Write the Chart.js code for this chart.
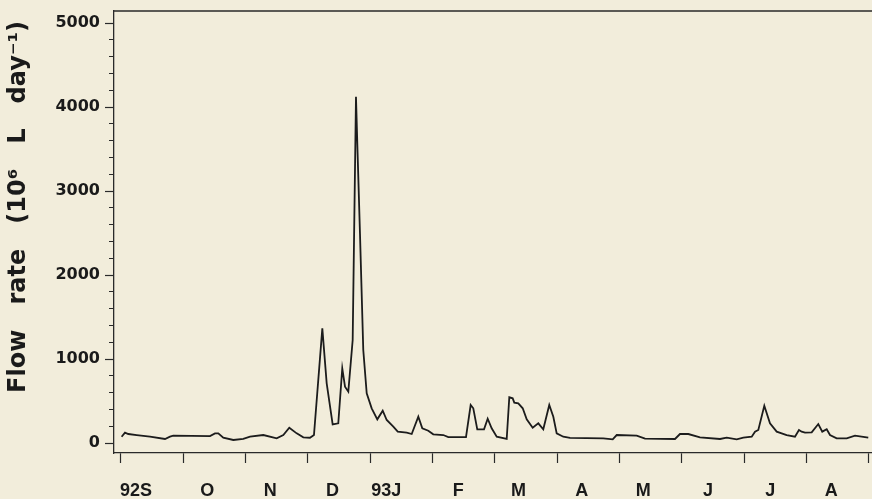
<!DOCTYPE html>
<html>
<head>
<meta charset="utf-8">
<script src="https://cdn.jsdelivr.net/npm/chart.js@4/dist/chart.umd.min.js"></script>
<style>
  html, body { margin: 0; padding: 0; background: #f2eddb; overflow: hidden; width: 872px; height: 499px; }
  canvas { display: block; background: #f2eddb; }
</style>
</head>
<body>
<canvas id="c" width="880" height="499"></canvas>
<script>
// Month labels (Sept 1992 .. Aug 1993)
const monthLabels = ['92S', 'O', 'N', 'D', '93J', 'F', 'M', 'A', 'M', 'J', 'J', 'A'];
// Y tick values
const yMajorTicks = [0, 1000, 2000, 3000, 4000, 5000];
const yMinorTicks = [200, 400, 600, 800, 1200, 1400, 1600, 1800, 2200, 2400, 2600, 2800, 3200, 3400, 3600, 3800, 4200, 4400, 4600, 4800];
// Time in months since 1 Sept 1992
const monthPos = [0.01,0.064,0.117,0.252,0.465,0.706,0.786,0.839,1.428,1.508,
  1.561,1.641,1.802,1.962,2.070,2.283,2.498,2.604,2.700,2.819,
  2.925,3.032,3.096,3.230,3.300,3.396,3.486,3.550,3.594,3.647,
  3.717,3.770,3.791,3.834,3.887,3.942,4.022,4.112,4.199,4.263,
  4.369,4.44,4.584,4.664,4.770,4.834,4.930,5.010,5.171,5.251,
  5.535,5.610,5.652,5.716,5.824,5.883,5.947,6.028,6.188,6.230,
  6.284,6.310,6.374,6.445,6.509,6.605,6.695,6.775,6.871,6.936,
  6.990,7.096,7.204,7.738,7.889,7.953,8.274,8.407,8.888,8.968,
  9.102,9.289,9.610,9.718,9.878,9.984,10.119,10.172,10.225,10.321,
  10.412,10.520,10.680,10.813,10.877,10.921,10.974,11.081,11.187,11.251,
  11.322,11.375,11.482,11.643,11.776,11.989];
// Flow rate (10^6 L/day)
const flowRate = [75,123,107,95,75,48,75,87,83,115,
  115,63,36,48,75,95,56,95,182,115,
  68,63,95,1365,710,222,234,889,670,611,
  1226,4123,3568,2496,1107,592,413,282,385,274,
  194,135,123,107,313,175,146,103,95,71,
  71,452,413,163,163,289,175,75,48,544,
  532,480,472,413,282,182,234,163,452,313,
  115,75,60,56,44,95,87,51,48,107,
  107,68,48,63,44,63,75,135,155,444,
  234,135,95,75,155,135,123,127,226,135,
  163,95,56,56,87,63];

const points = monthPos.map((m, i) => ({ x: m, y: flowRate[i] }));
const ink = '#2a2a2a';

const framePlugin = {
  id: 'frame',
  afterDraw(chart) {
    const { ctx, chartArea: a } = chart;
    ctx.save();
    ctx.strokeStyle = ink;
    ctx.lineWidth = 1.3;
    ctx.beginPath();
    ctx.moveTo(a.left, a.top);
    ctx.lineTo(a.right, a.top);
    ctx.lineTo(a.right, a.bottom);
    ctx.stroke();
    ctx.restore();
  }
};

function noPad(s) { s.paddingTop = 0; s.paddingBottom = 0; s.paddingLeft = 0; s.paddingRight = 0; }

new Chart(document.getElementById('c'), {
  type: 'line',
  data: {
    datasets: [{
      data: points,
      borderColor: '#1c1c1c',
      borderWidth: 1.8,
      pointRadius: 0,
      tension: 0,
      fill: false
    }]
  },
  options: {
    responsive: false,
    animation: false,
    layout: { padding: { left: 0, right: 4, top: 11, bottom: 0 } },
    plugins: { legend: { display: false }, tooltip: { enabled: false } },
    scales: {
      x: {
        type: 'linear',
        position: 'bottom',
        min: -0.1123,
        max: 12.113,
        afterBuildTicks(s) { s.ticks = Array.from({ length: 13 }, (_, i) => ({ value: i })); },
        afterFit(s) { s.height = 46; noPad(s); },
        grid: { drawOnChartArea: false, drawTicks: true, tickLength: 10, tickColor: ink, tickWidth: 1.2 },
        border: { display: true, color: ink, width: 1.3 },
        ticks: {
          autoSkip: false,
          maxRotation: 0,
          align: 'end',
          labelOffset: 31,
          padding: 17,
          color: '#1a1a1a',
          font: { family: '"Liberation Sans", Arial, sans-serif', size: 18, weight: 'bold' },
          callback(v, i) { return monthLabels[i] !== undefined ? monthLabels[i] : ''; }
        }
      },
      yMinor: {
        type: 'linear',
        position: 'left',
        weight: 0,
        min: -119,
        max: 5143,
        afterBuildTicks(s) { s.ticks = yMinorTicks.map(v => ({ value: v })); },
        afterFit(s) { s.width = 0; noPad(s); },
        grid: { drawOnChartArea: false, drawTicks: true, tickLength: 5, tickColor: ink, tickWidth: 1 },
        border: { display: false },
        ticks: { display: false }
      },
      y: {
        type: 'linear',
        position: 'left',
        weight: 1,
        min: -119,
        max: 5143,
        afterBuildTicks(s) { s.ticks = yMajorTicks.map(v => ({ value: v })); },
        afterFit(s) { s.width = 114; noPad(s); },
        grid: { drawOnChartArea: false, drawTicks: true, tickLength: 9, tickColor: ink, tickWidth: 1.2 },
        border: { display: true, color: ink, width: 1.3 },
        ticks: {
          padding: 5,
          color: '#1a1a1a',
          font: { family: '"DejaVu Sans", sans-serif', size: 16, weight: 'bold' },
          callback(v) { return String(v); }
        },
        title: {
          display: true,
          text: '      Flow   rate   (10\u2076   L   day\u207B\u00B9)',
          color: '#1a1a1a',
          padding: { top: 4, bottom: 0 },
          font: { family: '"DejaVu Sans", sans-serif', size: 24, weight: 'bold' }
        }
      }
    }
  },
  plugins: [framePlugin]
});
</script>
</body>
</html>
